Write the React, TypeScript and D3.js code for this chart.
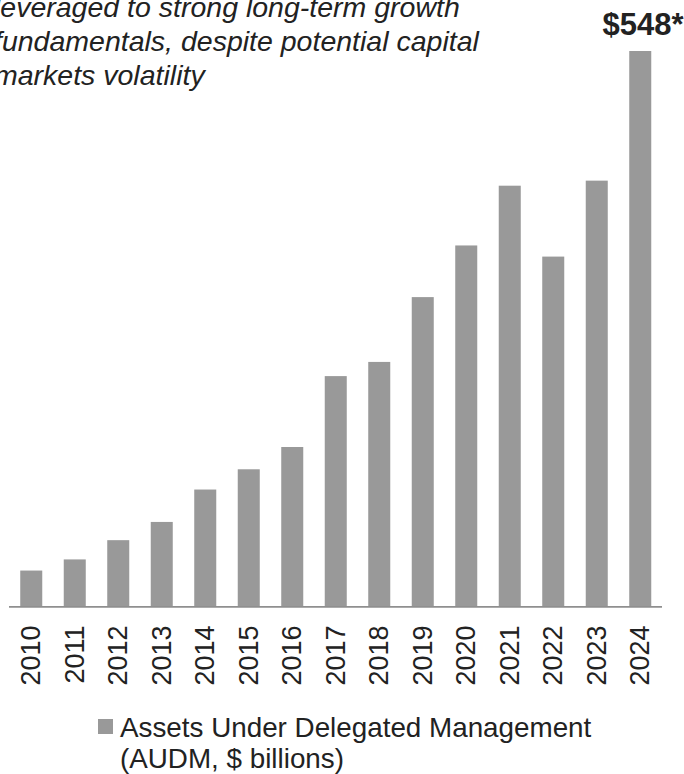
import React from "react";
import * as d3 from "d3";

const years = ["2010","2011","2012","2013","2014","2015","2016","2017","2018","2019","2020","2021","2022","2023","2024"];
const audm = [35, 46, 65, 83, 115, 135, 157, 227, 241, 305, 356, 415, 345, 420, 548];
const titleLines = [
  "leveraged to strong long-term growth",
  "fundamentals, despite potential capital",
  "markets volatility",
];
const topLabel = "$548*";
const legendLines = ["Assets Under Delegated Management", "(AUDM, $ billions)"];

const W = 684;
const H = 774;
const FONT = "'Liberation Sans', Arial, Helvetica, sans-serif";

export default function App() {
  const x = d3
    .scaleBand<string>()
    .domain(years)
    .range([9.5, 662])
    .paddingInner(0.494)
    .paddingOuter(0.247);
  const y = d3.scaleLinear().domain([0, 548]).range([606, 51]);

  return (
    <svg
      width={W}
      height={H}
      style={{ position: "absolute", left: 0, top: 0, background: "#fff" }}
      fontFamily={FONT}
    >
      {titleLines.map((t, i) => (
        <text
          key={t}
          x={-6}
          y={16.5 + i * 34.2}
          fontSize={28.5}
          fontStyle="italic"
          fill="#222"
        >
          {t}
        </text>
      ))}
      {years.map((yr, i) => (
        <rect
          key={yr}
          x={x(yr)}
          y={y(audm[i])}
          width={x.bandwidth()}
          height={y(0) - y(audm[i])}
          fill="#999999"
        />
      ))}
      <line x1={9} x2={662} y1={y(0) + 0.8} y2={y(0) + 0.8} stroke="#8f8f8f" strokeWidth={1.8} />
      <text
        x={683.5}
        y={34.5}
        textAnchor="end"
        fontSize={31}
        fontWeight="bold"
        fill="#222"
      >
        {topLabel}
      </text>
      {years.map((yr) => (
        <text
          key={"l" + yr}
          transform={`translate(${(x(yr) as number) + x.bandwidth() / 2},625.5) rotate(-90)`}
          textAnchor="end"
          dominantBaseline="central"
          fontSize={27}
          fill="#222"
        >
          {yr}
        </text>
      ))}
      <rect x={98} y={719} width={15} height={15} fill="#999999" />
      {legendLines.map((t, i) => (
        <text key={t} x={120} y={736.5 + i * 31} fontSize={27.8} fill="#222">
          {t}
        </text>
      ))}
    </svg>
  );
}
